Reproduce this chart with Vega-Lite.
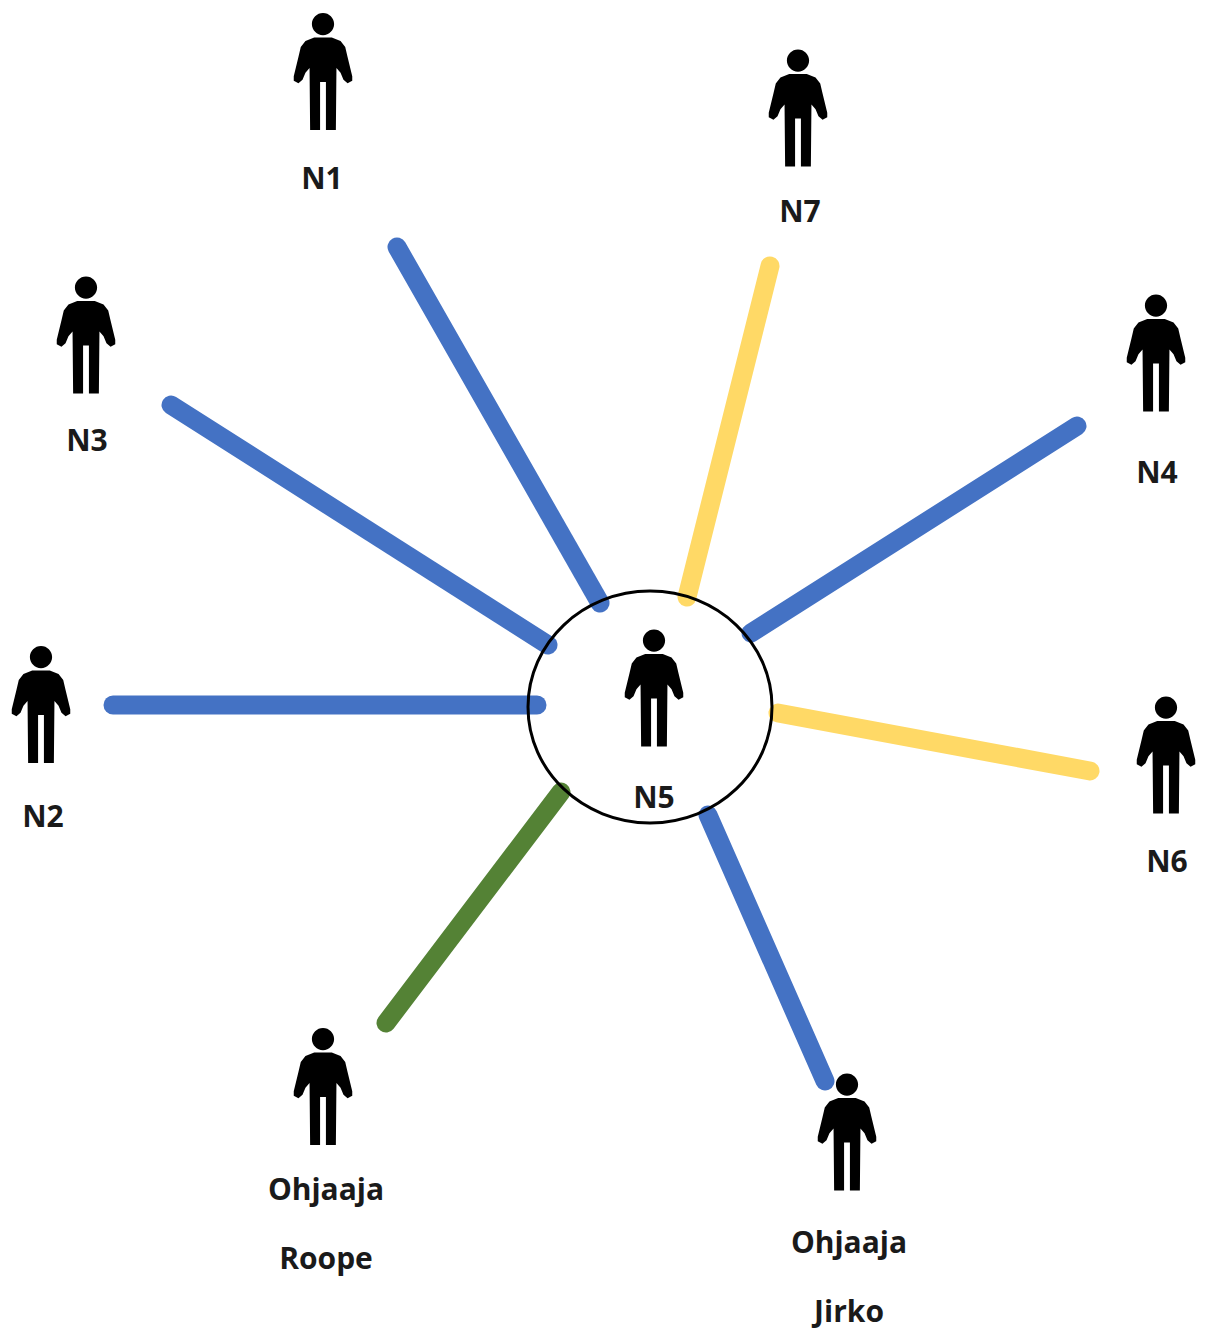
{
"$schema":"https://vega.github.io/schema/vega-lite/v6.json",
"width":1208,"height":1331,"autosize":{"type":"fit","contains":"padding"},"padding":0,"background":"#ffffff",
"view":{"stroke":null},
"datasets":{
"links":[
{"from":"N1","tie":"sininen","x":397,"y":247,"x2":600,"y2":603},
{"from":"N3","tie":"sininen","x":171,"y":405,"x2":548,"y2":645},
{"from":"N2","tie":"sininen","x":113,"y":705,"x2":537,"y2":705},
{"from":"N7","tie":"keltainen","x":770,"y":266,"x2":687,"y2":597},
{"from":"N4","tie":"sininen","x":1077,"y":426,"x2":751,"y2":633},
{"from":"N6","tie":"keltainen","x":1090,"y":771,"x2":778,"y2":713},
{"from":"Jirko","tie":"sininen","x":825,"y":1081,"x2":708,"y2":815},
{"from":"Roope","tie":"vihreä","x":386,"y":1023,"x2":561,"y2":792}
],
"people":[
{"name":"N1","x":323,"y":71.5},{"name":"N7","x":798,"y":108},{"name":"N3","x":86,"y":335},{"name":"N4","x":1156,"y":353},
{"name":"N2","x":41,"y":704.5},{"name":"N5","x":654,"y":688},{"name":"N6","x":1166,"y":755},{"name":"Roope","x":323,"y":1086.5},{"name":"Jirko","x":847,"y":1132}
],
"labels":[
{"text":"N1","x":322,"y":180},{"text":"N7","x":800,"y":213},{"text":"N3","x":87,"y":442},{"text":"N4","x":1157,"y":474},
{"text":"N2","x":43,"y":818},{"text":"N5","x":654,"y":799},{"text":"N6","x":1167,"y":863},
{"text":"Ohjaaja","x":326,"y":1191},{"text":"Roope","x":326,"y":1260},{"text":"Ohjaaja","x":849,"y":1244},{"text":"Jirko","x":849,"y":1313}
],
"centre":[{"name":"N5","x":650,"y":707}]
},
"layer":[
{"data":{"name":"links"},"mark":{"type":"rule","strokeWidth":19,"strokeCap":"round"},
"encoding":{
"x":{"field":"x","type":"quantitative","scale":{"domain":[0,1208],"nice":false,"zero":false},"axis":null},
"y":{"field":"y","type":"quantitative","scale":{"domain":[1331,0],"nice":false,"zero":false},"axis":null},
"x2":{"field":"x2"},"y2":{"field":"y2"},
"color":{"field":"tie","type":"nominal","legend":null,"scale":{"domain":["sininen","keltainen","vihreä"],"range":["#4472C4","#FFD966","#548235"]}}
}},
{"data":{"name":"centre"},"mark":{"type":"point","filled":false,"stroke":"#000000","strokeWidth":3,"opacity":1,"size":59536,"shape":"M-1,0 A1,0.95 0 1,1 1,0 A1,0.95 0 1,1 -1,0 Z"},
"encoding":{
"x":{"field":"x","type":"quantitative","scale":{"domain":[0,1208],"nice":false,"zero":false},"axis":null},
"y":{"field":"y","type":"quantitative","scale":{"domain":[1331,0],"nice":false,"zero":false},"axis":null}
}},
{"data":{"name":"people"},"mark":{"type":"point","filled":true,"fill":"#000000","stroke":null,"opacity":1,"size":13689,
"shape":"M0,-1 A0.19,0.19 0 1,1 0,-0.62 A0.19,0.19 0 1,1 0,-1 Z M-0.15,-0.58 L0.15,-0.58 L0.3,-0.52 L0.38,-0.42 L0.42,-0.25 L0.5,0.08 L0.5,0.16 L0.42,0.2 L0.35,0.14 L0.3,0.02 L0.23,-0.06 L0.22,1 L0.05,1 L0.05,0.18 L-0.05,0.18 L-0.05,1 L-0.22,1 L-0.23,-0.06 L-0.3,0.02 L-0.35,0.14 L-0.42,0.2 L-0.5,0.16 L-0.5,0.08 L-0.42,-0.25 L-0.38,-0.42 L-0.3,-0.52 Z"},
"encoding":{
"x":{"field":"x","type":"quantitative","scale":{"domain":[0,1208],"nice":false,"zero":false},"axis":null},
"y":{"field":"y","type":"quantitative","scale":{"domain":[1331,0],"nice":false,"zero":false},"axis":null}
}},
{"data":{"name":"labels"},"mark":{"type":"text","font":"Open Sans","fontWeight":"bold","fontSize":30,"fill":"#1a1a1a","align":"center","baseline":"middle"},
"encoding":{
"x":{"field":"x","type":"quantitative","scale":{"domain":[0,1208],"nice":false,"zero":false},"axis":null},
"y":{"field":"y","type":"quantitative","scale":{"domain":[1331,0],"nice":false,"zero":false},"axis":null},
"text":{"field":"text","type":"nominal"}
}}
]
}
